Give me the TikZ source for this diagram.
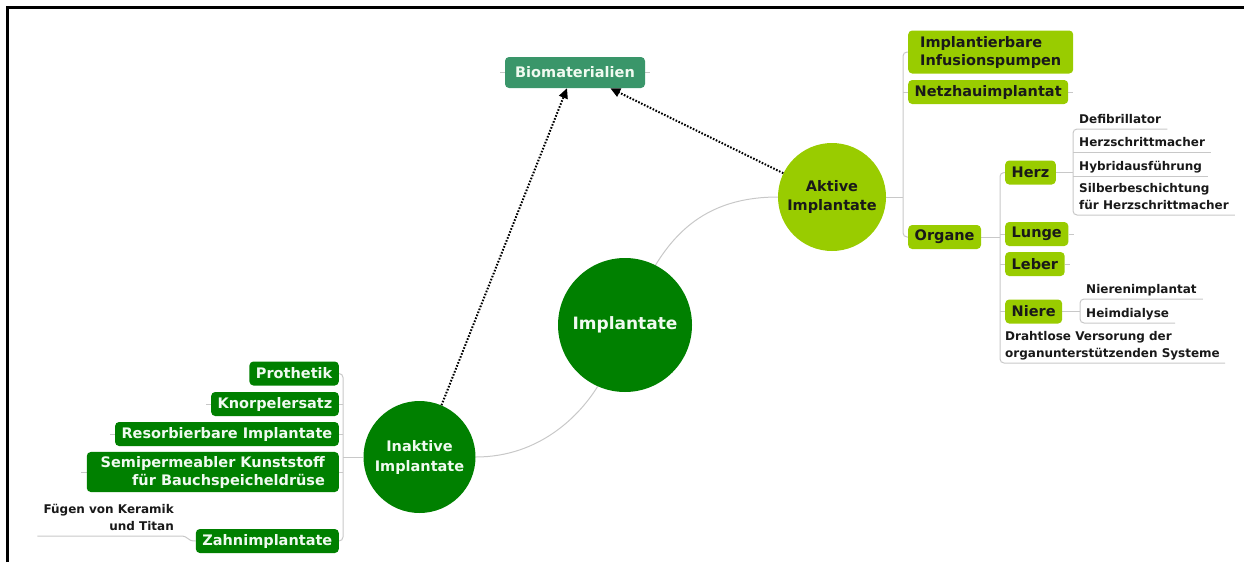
\documentclass[tikz,border=0pt]{standalone}
\usepackage{fontspec}
\setmainfont{DejaVu Sans}
\usetikzlibrary{arrows.meta}

\definecolor{darkgreen}{RGB}{0,128,0}
\definecolor{limegreen}{RGB}{153,204,0}
\definecolor{biogreen}{RGB}{58,150,106}
\definecolor{connector}{RGB}{200,200,200}
\definecolor{paletext}{RGB}{240,250,240}
\definecolor{inktext}{RGB}{25,25,25}

\pgfdeclarelayer{bg}
\pgfsetlayers{bg,main}

\tikzset{
  boxfont/.style={font=\bfseries\fontsize{14.5}{18}\selectfont},
  smallfont/.style={font=\bfseries\fontsize{12}{16.5}\selectfont},
  topicbox/.style={boxfont, rounded corners=4pt, inner xsep=6.5pt, inner ysep=4pt, minimum height=24pt},
  activebox/.style={topicbox, fill=limegreen, text=inktext},
  inactivebox/.style={topicbox, fill=darkgreen, text=paletext},
  leaf/.style={smallfont, text=inktext, inner xsep=6pt, inner ysep=2.5pt, text depth=3pt},
  bubble/.style={circle, inner sep=0pt, align=center},
  conn/.style={draw=connector, line width=1pt, rounded corners=4pt},
  curve/.style={draw=connector, line width=1pt},
  stub/.style={draw=connector, line width=1pt},
  link/.style={black, line width=2pt, dash pattern=on 1.6pt off 1.6pt,
    -{Triangle[length=10pt,width=9pt]}},
}

\begin{document}
\begin{tikzpicture}[x=1pt, y=-1pt]
\useasboundingbox (0,0) rectangle (1244,562);

% frame edges
\draw[line width=3pt] (7.5,562) -- (7.5,7.5) -- (1244,7.5);

% central topics
\node[bubble, fill=darkgreen, text=paletext, minimum size=134pt,
      font=\bfseries\fontsize{17}{20}\selectfont] (implantate) at (625,325) {Implantate};
\node[bubble, fill=limegreen, text=inktext, minimum size=108pt,
      font=\bfseries\fontsize{14.5}{19}\selectfont] (aktive) at (832,197) {Aktive\\Implantate};
\node[bubble, fill=darkgreen, text=paletext, minimum size=112pt,
      font=\bfseries\fontsize{14.5}{20}\selectfont] (inaktive) at (419.5,457) {Inaktive\\Implantate};

\node[topicbox, fill=biogreen, text=paletext, minimum width=140pt, minimum height=31pt]
  (bio) at (575,72.5) {Biomaterialien};

% active implants
\node[activebox, anchor=west, align=left, minimum width=165pt, minimum height=43pt] (infus) at (908,52)
  {Implantierbare\\Infusionspumpen};
\node[activebox, anchor=west] (netz) at (908,92) {Netzhauimplantat};
\node[activebox, anchor=west] (organe) at (908,237) {Organe};
\node[activebox, anchor=west] (herz) at (1005,172.5) {Herz};
\node[activebox, anchor=west] (lunge) at (1005,234) {Lunge};
\node[activebox, anchor=west] (leber) at (1005,264) {Leber};
\node[activebox, anchor=west] (niere) at (1005,311.5) {Niere};

\node[leaf, anchor=south west] (defib) at (1073,129) {Defibrillator};
\node[leaf, anchor=south west] (schritt) at (1073,152) {Herzschrittmacher};
\node[leaf, anchor=south west] (hybrid) at (1073,176) {Hybridausführung};
\node[leaf, anchor=south west, align=left] (silber) at (1073,215)
  {Silberbeschichtung\\für Herzschrittmacher};
\node[leaf, anchor=south west] (nimpl) at (1080,299) {Nierenimplantat};
\node[leaf, anchor=south west] (heim) at (1080,323) {Heimdialyse};
\node[leaf, anchor=south west, align=left, inner xsep=5pt] (draht) at (1000,363)
  {Drahtlose Versorung der\\organunterstützenden Systeme};

% inactive implants
\node[inactivebox, anchor=east] (prot) at (339,373.5) {Prothetik};
\node[inactivebox, anchor=east] (knorp) at (339,404) {Knorpelersatz};
\node[inactivebox, anchor=east] (resorb) at (339,434) {Resorbierbare Implantate};
\node[inactivebox, anchor=east, align=right, minimum width=252pt, minimum height=40pt] (semi) at (339,472)
  {Semipermeabler Kunststoff\\für Bauchspeicheldrüse};
\node[inactivebox, anchor=east] (zahn) at (339,541) {Zahnimplantate};
\node[leaf, anchor=south east, align=right] (fuegen) at (180,536)
  {Fügen von Keramik\\und Titan};

\coordinate (aspine) at (903,0);
\coordinate (ispine) at (343,0);

\begin{pgfonlayer}{bg}
  % main branches
  \draw[curve] (implantate.63) .. controls (680,225) and (715,197) .. (aktive.west);
  \draw[curve] (implantate.246) .. controls (580,415) and (540,457) .. (inaktive.east);

  % active branch spine
  \draw[conn] (infus.west) -- (infus.west -| aspine) -- (organe.west -| aspine) -- (organe.west);
  \draw[conn] (aktive.east) -- (aktive.east -| aspine);
  \draw[conn] (netz.west) -- (netz.west -| aspine);

  % organ spine
  \draw[conn] (organe.east) -- (organe.east -| draht.south west);
  \draw[conn] (herz.west) -- (herz.west -| draht.south west) -- (draht.south west) -- (draht.south east);
  \draw[conn] (lunge.west) -- (lunge.west -| draht.south west);
  \draw[conn] (leber.west) -- (leber.west -| draht.south west);
  \draw[conn] (niere.west) -- (niere.west -| draht.south west);

  % heart spine
  \draw[conn] (herz.east) -- (herz.east -| defib.south west);
  \draw[conn] (defib.south east) -- (defib.south west) -- (silber.south west) -- (silber.south east);
  \draw[conn] (schritt.south west) -- (schritt.south east);
  \draw[conn] (hybrid.south west) -- (hybrid.south east);

  % kidney spine
  \draw[conn] (niere.east) -- (niere.east -| nimpl.south west);
  \draw[conn] (nimpl.south east) -- (nimpl.south west) -- (heim.south west) -- (heim.south east);

  % inactive branch spine
  \draw[conn] (prot.east) -- (prot.east -| ispine) -- (zahn.east -| ispine) -- (zahn.east);
  \draw[conn] (inaktive.west) -- (inaktive.west -| ispine);
  \draw[conn] (knorp.east) -- (knorp.east -| ispine);
  \draw[conn] (resorb.east) -- (resorb.east -| ispine);
  \draw[conn] (semi.east) -- (semi.east -| ispine);
  \draw[curve] (fuegen.south west) -- (fuegen.south east)
    .. controls +(10,0) and +(-10,0) .. (zahn.west);

  % short topic stubs
  \draw[stub] (bio.west) -- ++(-5,0);
  \draw[stub] (bio.east) -- ++(5,0);
  \draw[stub] (netz.east) -- ++(5,0);
  \draw[stub] (lunge.east) -- ++(5,0);
  \draw[stub] (leber.east) -- ++(5,0);
  \draw[stub] (knorp.west) -- ++(-5,0);
  \draw[stub] (resorb.west) -- ++(-5,0);
  \draw[stub] (semi.west) -- ++(-6,0);
\end{pgfonlayer}

% relations to biomaterials
\draw[link] (inaktive.67) -- (bio.243);
\draw[link] (aktive.154) -- (bio.336);

\end{tikzpicture}
\end{document}
